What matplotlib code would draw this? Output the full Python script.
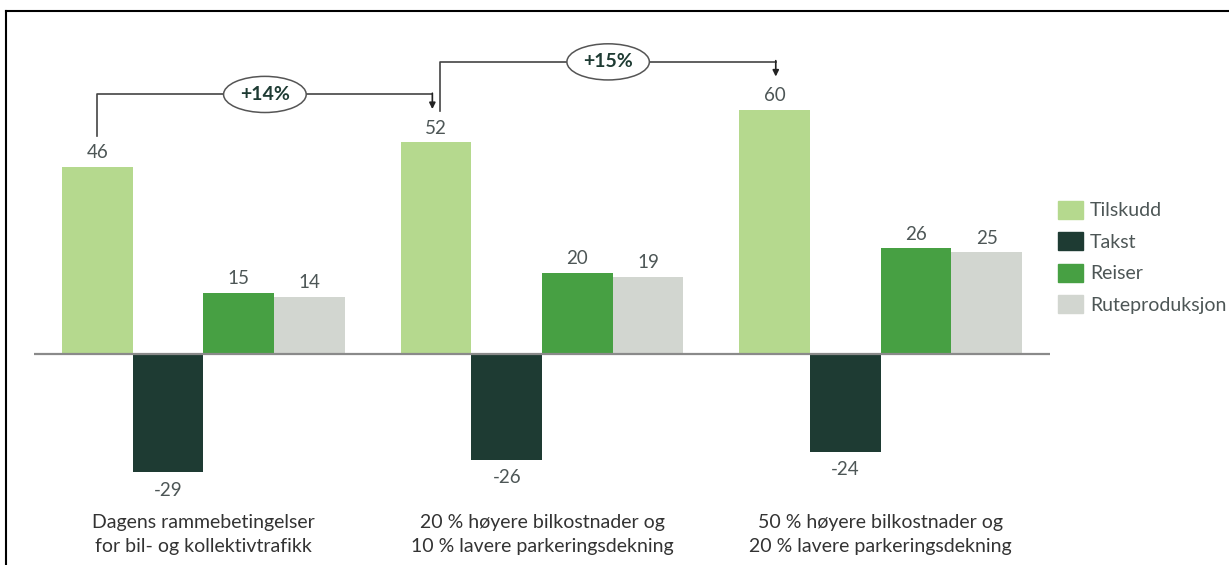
import matplotlib
matplotlib.use('Agg')
import matplotlib.pyplot as plt
from matplotlib.lines import Line2D
import numpy as np

plt.rcParams['font.family'] = ['Lato', 'DejaVu Sans']

# Data
categories = ['Dagens rammebetingelser\nfor bil- og kollektivtrafikk',
              '20 % høyere bilkostnader og\n10 % lavere parkeringsdekning',
              '50 % høyere bilkostnader og\n20 % lavere parkeringsdekning']
series = ['Tilskudd', 'Takst', 'Reiser', 'Ruteproduksjon']
tilskudd = [46, 52, 60]
takst = [-29, -26, -24]
reiser = [15, 20, 26]
ruteproduksjon = [14, 19, 25]
changes = ['+14%', '+15%']

colors = ['#b5d98e', '#1e3b33', '#47a043', '#d2d6d0']
values = [tilskudd, takst, reiser, ruteproduksjon]

W, H = 1229, 565
fig = plt.figure(figsize=(W / 100, H / 100), dpi=100)
ax = fig.add_axes([34 / W, 0, 1016 / W, 1])
ax.set_xlim(-0.5, 2.5)
ax.set_ylim(-51.8, 87.0)
ax.axis('off')

x = np.arange(len(categories))
w = 0.2085
for i, (name, vals, col) in enumerate(zip(series, values, colors)):
    pos = x + (i - 1.5) * w
    ax.bar(pos, vals, width=w, color=col, label=name, zorder=2)
    for px, v in zip(pos, vals):
        if v >= 0:
            ax.text(px, v + 1.4, str(v), ha='center', va='bottom', fontsize=13.5, color='#4d5656')
        else:
            ax.text(px, v - 2.3, str(v), ha='center', va='top', fontsize=13.5, color='#4d5656')

ax.axhline(0, color='#8a8a8a', lw=1.6, zorder=3)

# category labels
for xi, lab in zip(x, categories):
    ax.text(xi, -39.3, lab, ha='center', va='top', fontsize=14, color='#333333', linespacing=1.5)

# brackets with % change
x_first = x - 1.5 * w
start_off = [0.0, 0.013]
tip_off = [-0.011, 0.003]
for k, lab in enumerate(changes):
    x0 = x_first[k] + start_off[k]
    x1 = x_first[k + 1] + tip_off[k]
    y_start = tilskudd[k] + 7.7
    y_line = tilskudd[k + 1] + 11.8
    y_tip = tilskudd[k + 1] + 8.2
    ax.plot([x0, x0, x1], [y_start, y_line, y_line], color='#444444', lw=1.2, zorder=3)
    ax.annotate('', xy=(x1, y_tip), xytext=(x1, y_line + 0.3),
                arrowprops=dict(arrowstyle='-|>', color='#222222', lw=1.2,
                                mutation_scale=9, shrinkA=0, shrinkB=0), zorder=3)
    xm = x0 + (x1 - x0) * 0.5
    ax.text(xm, y_line, lab, ha='center', va='center', fontsize=14, fontweight='bold',
            color='#1e3b33', zorder=4,
            bbox=dict(boxstyle='ellipse,pad=0.22', fc='white', ec='#555555', lw=1.1))

# legend
handles = [plt.Rectangle((0, 0), 1, 1, color=c) for c in colors]
fig.legend(handles, series, loc='upper left', bbox_to_anchor=(1050 / W, 1 - 193 / H),
           frameon=False, fontsize=14, handlelength=1.3, handleheight=1.05,
           labelspacing=0.66, handletextpad=0.35, borderaxespad=0, labelcolor='#4d5656')

# frame on top and left
fig.add_artist(Line2D([6.5 / W, 1], [1 - 10.5 / H, 1 - 10.5 / H], color='black', lw=1.5))
fig.add_artist(Line2D([6.5 / W, 6.5 / W], [0, 1 - 10.5 / H], color='black', lw=1.5))

fig.savefig('out.png', dpi=100)
